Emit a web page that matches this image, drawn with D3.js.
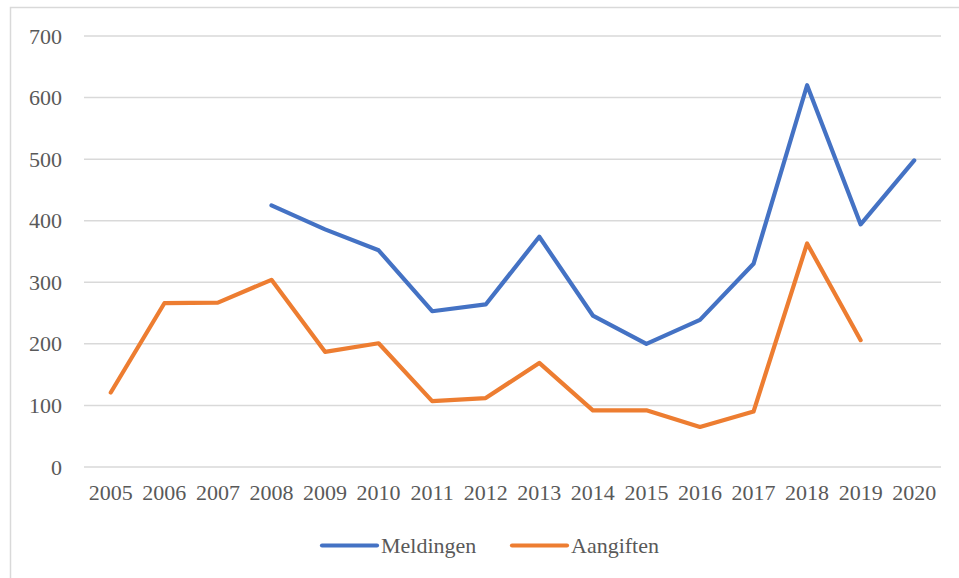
<!DOCTYPE html>
<html>
<head>
<meta charset="utf-8">
<script src="https://cdn.jsdelivr.net/npm/d3@7"></script>
<style>
  body { margin: 0; background: #fff; }
  svg { display: block; }
  text { font-family: "Liberation Serif", "Times New Roman", serif; fill: #595959; }
</style>
</head>
<body>
<svg width="959" height="578"></svg>
<script>
var years = ["2005","2006","2007","2008","2009","2010","2011","2012",
             "2013","2014","2015","2016","2017","2018","2019","2020"];
var meldingen = [null, null, null, 425, 386, 352, 253, 264, 374, 246, 200, 239, 330, 620, 394, 498];
var aangiften = [121, 266, 267, 304, 187, 201, 107, 112, 169, 92, 92, 65, 90, 363, 206, null];
var yTicks = [0, 100, 200, 300, 400, 500, 600, 700];

var seriesNames = ["Meldingen", "Aangiften"];
var colors = ["#4472C4", "#ED7D31"];

var serif = "'Liberation Serif', 'Times New Roman', serif";

var margin = {top: 36, left: 84, right: 18, bottom: 111},
    width = 959 - margin.left - margin.right,
    height = 578 - margin.top - margin.bottom;

var svg = d3.select("svg");

// outer chart frame (runs off the picture right and bottom)
svg.append("rect")
    .attr("x", 10.5).attr("y", 7.5)
    .attr("width", 1000).attr("height", 1000)
    .attr("fill", "none")
    .attr("stroke", "#d9d9d9")
    .attr("stroke-width", 1.5);

var g = svg.append("g")
    .attr("transform", "translate(" + margin.left + "," + margin.top + ")");

var x = d3.scaleBand().domain(years).range([0, width]);
var y = d3.scaleLinear().domain([0, 700]).range([height, 0]);

// gridlines
g.append("g")
    .selectAll("line")
    .data(yTicks)
    .enter().append("line")
    .attr("x1", 0).attr("x2", width)
    .attr("y1", function(d) { return y(d); })
    .attr("y2", function(d) { return y(d); })
    .attr("stroke", "#d9d9d9")
    .attr("stroke-width", 1.5);

// y axis labels
var yAxis = g.append("g")
    .call(d3.axisLeft(y).tickValues(yTicks).tickSize(0).tickPadding(22))
    .attr("font-family", serif)
    .attr("font-size", 22);
yAxis.select(".domain").remove();
yAxis.selectAll("text")
    .style("font-family", serif)
    .style("font-size", "22px")
    .attr("fill", "#595959");

// x axis labels
var xAxis = g.append("g")
    .attr("transform", "translate(0," + height + ")")
    .call(d3.axisBottom(x).tickSize(0).tickPadding(17))
    .attr("font-family", serif)
    .attr("font-size", 22);
xAxis.select(".domain").remove();
xAxis.selectAll("text")
    .style("font-family", serif)
    .style("font-size", "22px")
    .attr("fill", "#595959");

// lines
var line = d3.line()
    .defined(function(d) { return d.v != null; })
    .x(function(d) { return x(d.year) + x.bandwidth() / 2; })
    .y(function(d) { return y(d.v); });

[meldingen, aangiften].forEach(function(vals, i) {
  var data = years.map(function(yr, j) { return {year: yr, v: vals[j]}; });
  g.append("path")
      .datum(data)
      .attr("d", line)
      .attr("fill", "none")
      .attr("stroke", colors[i])
      .attr("stroke-width", 4.2)
      .attr("stroke-linejoin", "round")
      .attr("stroke-linecap", "round");
});

// legend
var legendX = [322, 512];
var legend = svg.append("g");
seriesNames.forEach(function(name, i) {
  legend.append("line")
      .attr("x1", legendX[i]).attr("x2", legendX[i] + 55)
      .attr("y1", 545.5).attr("y2", 545.5)
      .attr("stroke", colors[i])
      .attr("stroke-width", 4.2)
      .attr("stroke-linecap", "round");
  legend.append("text")
      .attr("x", legendX[i] + 59)
      .attr("y", 553)
      .style("font-family", serif)
      .style("font-size", "22px")
      .text(name);
});
</script>
</body>
</html>
